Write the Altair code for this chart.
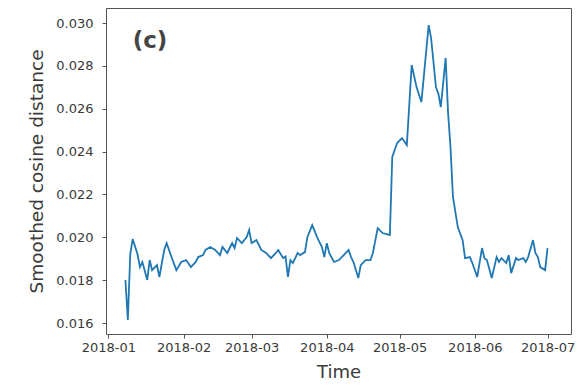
import altair as alt
import pandas as pd

# Smoothed cosine distance, daily series (Jan–Jul 2018)
dates = [
    "2018-01-08", "2018-01-09", "2018-01-10", "2018-01-11", "2018-01-13", "2018-01-14",
    "2018-01-15", "2018-01-17", "2018-01-18", "2018-01-19", "2018-01-21", "2018-01-22",
    "2018-01-24", "2018-01-25", "2018-01-27", "2018-01-29", "2018-01-31", "2018-02-02",
    "2018-02-04", "2018-02-06", "2018-02-07", "2018-02-09", "2018-02-10", "2018-02-12",
    "2018-02-14", "2018-02-16", "2018-02-17", "2018-02-19", "2018-02-21", "2018-02-22",
    "2018-02-23", "2018-02-25", "2018-02-27", "2018-02-28", "2018-03-01", "2018-03-03",
    "2018-03-05", "2018-03-07", "2018-03-09", "2018-03-11", "2018-03-12", "2018-03-14",
    "2018-03-15", "2018-03-16", "2018-03-17", "2018-03-18", "2018-03-20", "2018-03-21",
    "2018-03-23", "2018-03-24", "2018-03-26", "2018-03-28", "2018-03-30", "2018-03-31",
    "2018-04-01", "2018-04-02", "2018-04-04", "2018-04-06", "2018-04-08", "2018-04-10",
    "2018-04-11", "2018-04-12", "2018-04-14", "2018-04-15", "2018-04-17", "2018-04-19",
    "2018-04-20", "2018-04-22", "2018-04-24", "2018-04-27", "2018-04-28", "2018-04-30",
    "2018-05-02", "2018-05-04", "2018-05-06", "2018-05-08", "2018-05-10", "2018-05-13",
    "2018-05-14", "2018-05-16", "2018-05-17", "2018-05-18", "2018-05-20", "2018-05-21",
    "2018-05-22", "2018-05-23", "2018-05-25", "2018-05-27", "2018-05-28", "2018-05-30",
    "2018-05-31", "2018-06-02", "2018-06-04", "2018-06-05", "2018-06-06", "2018-06-08",
    "2018-06-10", "2018-06-11", "2018-06-12", "2018-06-14", "2018-06-15", "2018-06-16",
    "2018-06-18", "2018-06-19", "2018-06-21", "2018-06-22", "2018-06-23", "2018-06-25",
    "2018-06-26", "2018-06-27", "2018-06-28", "2018-06-30", "2018-07-01",
]
distance = [
    0.01801, 0.01614, 0.01921, 0.01992, 0.01921, 0.01861,
    0.01885, 0.01801, 0.01894, 0.01847, 0.01870, 0.01815,
    0.01941, 0.01973, 0.01908, 0.01847, 0.01885, 0.01894,
    0.01861, 0.01885, 0.01908, 0.01917, 0.01941, 0.01955,
    0.01941, 0.01917, 0.01955, 0.01927, 0.01973, 0.01950,
    0.01997, 0.01973, 0.02001, 0.02034, 0.01973, 0.01987,
    0.01941, 0.01927, 0.01903, 0.01927, 0.01941, 0.01903,
    0.01910, 0.01815, 0.01894, 0.01880, 0.01927, 0.01917,
    0.01931, 0.02001, 0.02057, 0.02001, 0.01955, 0.01908,
    0.01973, 0.01927, 0.01885, 0.01894, 0.01917, 0.01941,
    0.01908, 0.01885, 0.01810, 0.01870, 0.01894, 0.01894,
    0.01927, 0.02043, 0.02020, 0.02011, 0.02375, 0.02440,
    0.02463, 0.02430, 0.02804, 0.02701, 0.02631, 0.02990,
    0.02930, 0.02701, 0.02670, 0.02608, 0.02837, 0.02580,
    0.02421, 0.02190, 0.02048, 0.01987, 0.01903, 0.01908,
    0.01880, 0.01815, 0.01950, 0.01903, 0.01894, 0.01810,
    0.01908, 0.01885, 0.01903, 0.01880, 0.01917, 0.01833,
    0.01903, 0.01894, 0.01903, 0.01885, 0.01908, 0.01987,
    0.01927, 0.01908, 0.01861, 0.01847, 0.01950,
]

# Month ticks on the time axis
month_ticks = [(2018, m) for m in range(1, 8)]

# Panel tag
tag_text = ["(c)"]
tag_date = ["2018-01-11"]
tag_value = [0.02916]

df = pd.DataFrame({"date": dates, "distance": distance})
tags = pd.DataFrame({"label": tag_text, "date": tag_date, "value": tag_value})

FONT = "DejaVu Sans"
INK = "#3a3a3a"

x_scale = alt.Scale(
    type="utc",
    domain=[
        alt.DateTime(year=2017, month=12, date=31, utc=True),
        alt.DateTime(year=2018, month=7, date=10, hours=16, utc=True),
    ],
    nice=False,
)
y_scale = alt.Scale(domain=[0.01549, 0.0307], nice=False, zero=False)

x_axis = alt.Axis(
    title="Time",
    values=[alt.DateTime(year=y, month=m, date=1, utc=True) for y, m in month_ticks],
    labelExpr="utcFormat(datum.value, '%Y-%m')",
    grid=False,
    domain=False,
    tickSize=4,
    tickColor="#555555",
    labelPadding=3,
    labelFontSize=13,
    labelColor=INK,
    labelFont=FONT,
    labelOverlap=False,
    labelFlush=False,
    titleFont=FONT,
    titleFontSize=18,
    titleFontWeight="normal",
    titleColor=INK,
    titlePadding=9,
)
y_axis = alt.Axis(
    title="Smoothed cosine distance",
    format=".3f",
    values=[0.016, 0.018, 0.020, 0.022, 0.024, 0.026, 0.028, 0.030],
    grid=False,
    domain=False,
    tickSize=4,
    tickColor="#555555",
    labelPadding=9,
    labelFontSize=13,
    labelColor=INK,
    labelFont=FONT,
    titleFont=FONT,
    titleFontSize=18.5,
    titleFontWeight="normal",
    titleColor=INK,
    titlePadding=9,
)

line = (
    alt.Chart(df)
    .mark_line(color="#1f77b4", strokeWidth=1.8)
    .encode(
        x=alt.X("date:T", scale=x_scale, axis=x_axis),
        y=alt.Y("distance:Q", scale=y_scale, axis=y_axis),
    )
)

tag = (
    alt.Chart(tags)
    .mark_text(align="left", baseline="middle", font=FONT, fontSize=23,
               fontWeight="bold", color="#444444")
    .encode(x="date:T", y="value:Q", text="label:N")
)

chart = (
    alt.layer(line, tag)
    .properties(
        width=465,
        height=326,
        autosize=alt.AutoSizeParams(type="none"),
        padding={"left": 106, "top": 8, "right": 16, "bottom": 58},
        background="white",
    )
    .configure_view(stroke="#555555", strokeWidth=1)
)

chart.save("out.html", embed_options={"renderer": "svg", "actions": False})
